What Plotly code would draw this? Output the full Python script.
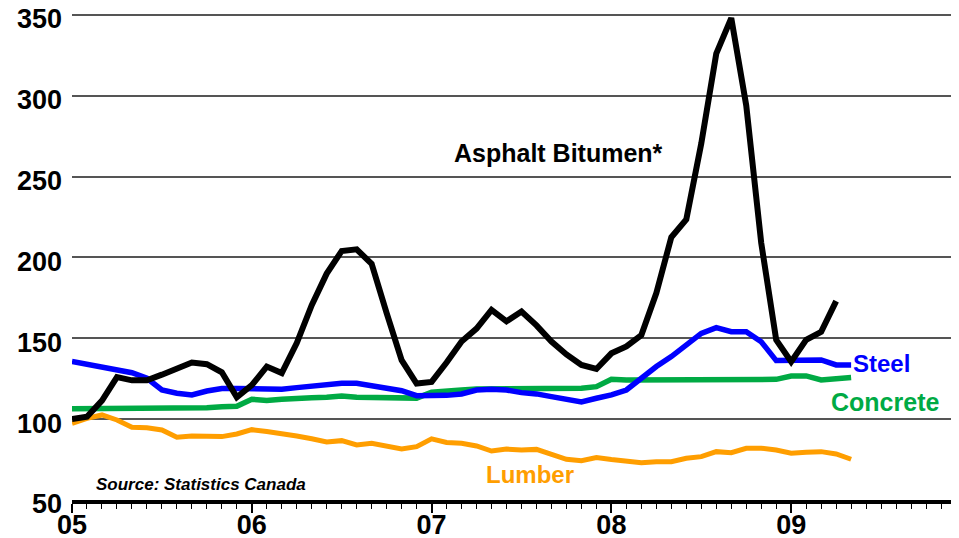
import plotly.graph_objects as go

# Monthly index values, Jan 2005 onward (month index 0 = Jan 2005)
asphalt = [100, 101.5, 111.5, 126, 124, 124, 127.5, 131.5, 135, 134, 129, 113.5,
           121, 132.5, 128.5, 147, 170.5, 190, 204, 205, 196, 165.5, 136.5, 122,
           123, 135, 148, 156, 167.5, 160.5, 166.5, 158, 148, 140, 133.5, 131,
           140.7, 145, 152, 178, 212.5, 223.5, 270.5, 326, 348, 294, 209, 149,
           135.5, 149, 154, 173]
steel = [135.6, 134, 132, 130.5, 128.7, 125.3, 118, 116, 115, 117.4, 119, 119,
         119, 119, 118.5, 119.5, 120.5, 121, 122.2, 122.2, 120.7, 118.5, 117.6, 114.5,
         114.5, 114.7, 115.6, 118, 118.5, 118, 116.4, 115.6, 113.9, 112.3, 110.6, 112.9,
         115, 118, 125.3, 132.5, 138.7, 145.9, 153, 156.6, 154.1, 154.1, 147.9, 136.2,
         136.6, 136.2, 136.6, 133.5, 133.5]
concrete = [106.5, 106.5, 106.5, 106.5, 106.5, 106.5, 106.5, 106.5, 106.5, 107, 107.7, 108,
            112.3, 111.5, 112.3, 113, 113.3, 113.5, 114.3, 113.5, 113.5, 113.5, 113, 113,
            116.6, 117.6, 118, 118.7, 118.7, 118.7, 118.7, 118.7, 119.1, 119.1, 119.1, 120.1,
            124.6, 124.2, 124.2, 124.2, 124.2, 124.2, 124.6, 124.6, 124.6, 124.6, 124.6, 124.6,
            126.7, 126.7, 124.2, 124.6, 125.7]
lumber = [97.4, 100.5, 102.6, 99.5, 95, 94.7, 93.3, 88.8, 89.6, 89.2, 89.2, 90.8,
          93.5, 92.3, 91.2, 89.6, 87.9, 85.9, 86.7, 84, 85.1, 83, 81.5, 83,
          87.8, 85.6, 85.1, 83.4, 80.3, 81.5, 80.9, 81.3, 78.5, 75.2, 74.3, 76.2,
          75, 73.7, 73.1, 73.7, 73.7, 75.8, 76.8, 79.9, 79.3, 82, 82, 80.9,
          78.9, 79.5, 79.9, 78.5, 75.2]

year_tickvals = [0, 12, 24, 36, 48]
year_ticktext = ["05", "06", "07", "08", "09"]
y_tickvals = [50, 100, 150, 200, 250, 300, 350]

FONT = "Liberation Sans, Arial, sans-serif"

fig = go.Figure()

def add_line(vals, color, width, name):
    fig.add_trace(go.Scatter(x=list(range(len(vals))), y=vals, mode="lines",
                             line=dict(color=color, width=width), name=name,
                             showlegend=False, cliponaxis=False))

add_line(lumber, "#FF9E00", 5, "Lumber")
add_line(concrete, "#00AA44", 5.5, "Concrete")
add_line(steel, "#0000FF", 5.5, "Steel")
add_line(asphalt, "#000000", 6, "Asphalt Bitumen*")

# page body has an 8px margin, so the figure is sized to fit the 959x538 window
fig.update_layout(
    width=951, height=530,
    margin=dict(l=64, r=0, t=2, b=38),
    paper_bgcolor="white", plot_bgcolor="white",
    font=dict(family=FONT, color="black"),
    xaxis=dict(range=[0, 59.2], tickvals=year_tickvals, ticktext=year_ticktext,
               automargin=False,
               showgrid=False, zeroline=False,
               showline=True, linecolor="black", linewidth=3.5,
               ticks="outside", ticklen=9, tickwidth=1.5, tickcolor="black",
               ticklabelstandoff=-11, ticklabeloverflow="allow",
               minor=dict(dtick=1, tick0=0, ticks="outside", ticklen=5, tickwidth=1,
                          tickcolor="black", showgrid=False),
               tickfont=dict(family=FONT, size=27, weight="bold", color="black")),
    yaxis=dict(range=[50, 353], tickvals=y_tickvals, showgrid=True, automargin=False,
               gridcolor="#555555", gridwidth=1.5, zeroline=False, showline=False,
               ticks="", ticklabelstandoff=9, ticklabeloverflow="allow",
               ticklabelshift=4,
               tickfont=dict(family=FONT, size=27, weight="bold", color="black")),
)

fig.add_annotation(x=32.5, y=264.6, text="Asphalt Bitumen*", showarrow=False,
                   xanchor="center", yanchor="middle",
                   font=dict(family=FONT, size=25, weight="bold", color="black"))
fig.add_annotation(x=52.0, y=134.7, text="Steel", showarrow=False,
                   xanchor="left", yanchor="middle",
                   font=dict(family=FONT, size=24, weight="bold", color="#0000FF"))
fig.add_annotation(x=50.5, y=110.6, text="Concrete", showarrow=False,
                   xanchor="left", yanchor="middle",
                   font=dict(family=FONT, size=25, weight="bold", color="#00AA44"))
fig.add_annotation(x=27.5, y=65.5, text="Lumber", showarrow=False,
                   xanchor="left", yanchor="middle",
                   font=dict(family=FONT, size=24, weight="bold", color="#FF9E00"))
fig.add_annotation(x=1.5, y=59.3, text="Source: Statistics Canada", showarrow=False,
                   xanchor="left", yanchor="middle",
                   font=dict(family=FONT, size=17, weight="bold", style="italic",
                             color="black"))

fig.write_html("out.html")
